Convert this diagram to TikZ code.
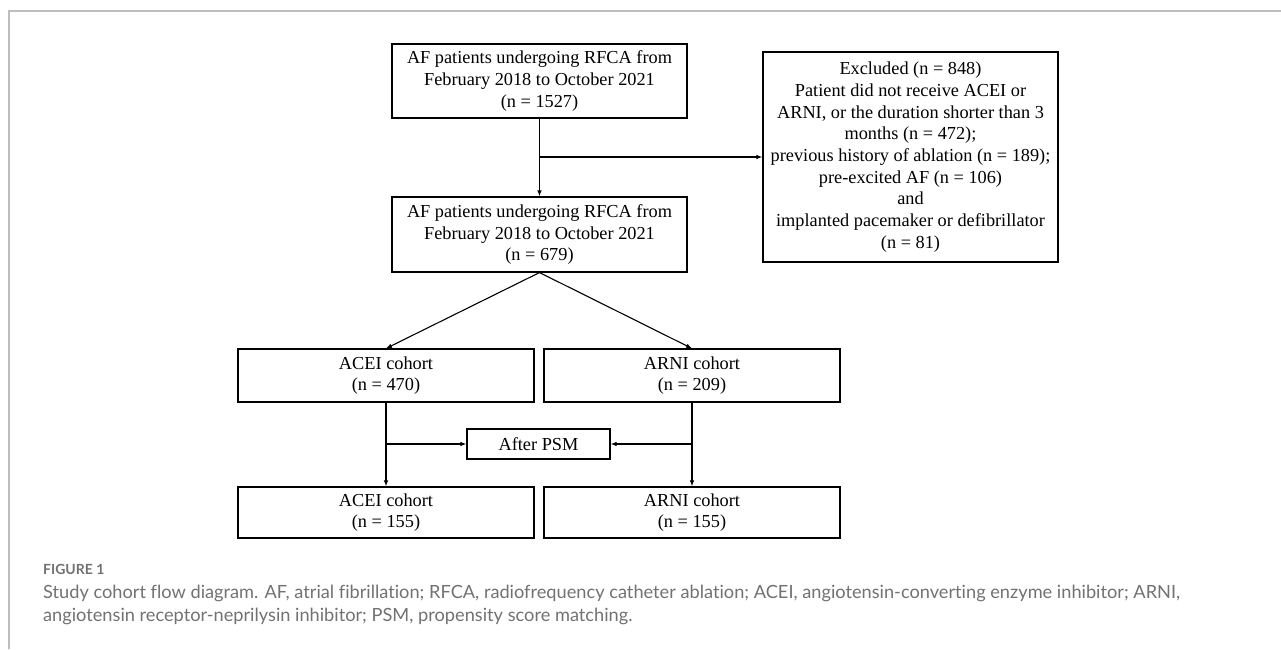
\documentclass[tikz,border=0pt]{standalone}
\usepackage{fontspec}
\setmainfont{Liberation Serif}
\newfontfamily\capfont[Ligatures={NoCommon,NoRare,NoDiscretionary}]{Lato}
\usetikzlibrary{arrows.meta,calc}
\definecolor{capgray}{HTML}{727272}
\definecolor{framegray}{HTML}{BDBDBD}
\tikzset{
  flowbox/.style={draw=black, line width=1.1pt, minimum width=295pt, inner sep=0pt, align=center,
    font=\fontsize{18.3}{21.7}\selectfont},
  conn/.style={line width=1.1pt, -{Latex[length=6pt,width=4.5pt]}},
  captext/.style={anchor=west, inner sep=0pt, text=capgray}
}
\begin{document}
\begin{tikzpicture}[x=1pt,y=1pt]
\useasboundingbox (0,0) rectangle (1281,-649);
\fill[white] (0,0) rectangle (1281,-649);
% frame
\draw[framegray, line width=1.5pt] (9,-649) -- (9,-11) -- (1281,-11);
% boxes
\node[flowbox, minimum height=74pt] (b1) at (539.5,-81)
  {AF patients undergoing RFCA from\\February 2018 to October 2021\\(n = 1527)};
\node[flowbox, minimum height=75pt] (b2) at (539.5,-234.5)
  {AF patients undergoing RFCA from\\February 2018 to October 2021\\(n = 679)};
\node[flowbox, minimum height=210pt] (ex) at (910.5,-157)
  {Excluded (n = 848)\\Patient did not receive ACEI or\\ARNI, or the duration shorter than 3\\months (n = 472);\\previous history of ablation (n = 189);\\pre-excited AF (n = 106)\\and\\implanted pacemaker or defibrillator\\(n = 81)};
\node[flowbox, minimum width=296pt, minimum height=53pt] (a1) at (386,-375.5)
  {ACEI cohort\\(n = 470)};
\node[flowbox, minimum width=296pt, minimum height=53pt] (r1) at (692,-375.5)
  {ARNI cohort\\(n = 209)};
\node[flowbox, minimum width=143pt, minimum height=30pt] (psm) at (538.5,-444)
  {After PSM};
\node[flowbox, minimum width=296pt, minimum height=51pt] (a2) at (386,-512.5)
  {ACEI cohort\\(n = 155)};
\node[flowbox, minimum width=296pt, minimum height=51pt] (r2) at (692,-512.5)
  {ARNI cohort\\(n = 155)};
% connectors
\draw[conn] (b1.south) -- (b2.north);
\coordinate (br) at (b1.south |- ex.west);
\draw[conn] (br) -- (ex.west);
\draw[conn] (b2.south) -- (a1.north);
\draw[conn] (b2.south) -- (r1.north);
\draw[conn] (a1.south) -- (a2.north);
\draw[conn] (r1.south) -- (r2.north);
\coordinate (aj) at (a1.south |- psm.west);
\coordinate (rj) at (r1.south |- psm.east);
\draw[conn] (aj) -- (psm.west);
\draw[conn] (rj) -- (psm.east);
% caption
\node[captext, font=\capfont\bfseries\fontsize{14}{16}\selectfont] (fig) at (43,-569) {FIGURE 1};
\node[captext, font=\capfont\fontsize{18.2}{20}\selectfont] (c1) at (43,-593)
  {Study cohort flow diagram. AF, atrial fibrillation; RFCA, radiofrequency catheter ablation; ACEI, angiotensin-converting enzyme inhibitor; ARNI,};
\node[captext, font=\capfont\fontsize{18.2}{20}\selectfont] (c2) at (43,-616)
  {angiotensin receptor-neprilysin inhibitor; PSM, propensity score matching.};
\end{tikzpicture}
\end{document}
